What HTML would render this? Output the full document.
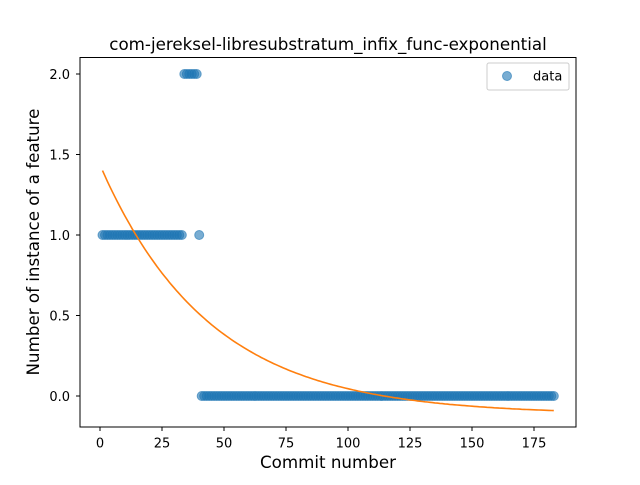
<!DOCTYPE html>
<html><head><meta charset="utf-8"><style>
body{margin:0;background:#fff;font-family:"Liberation Sans","DejaVu Sans",sans-serif}
</style></head><body>
<svg id="chart" width="640" height="480" xmlns="http://www.w3.org/2000/svg" font-family="'DejaVu Sans','Liberation Sans',sans-serif">
<rect width="640" height="480" fill="#fff"/>
<text x="328" y="50" font-size="16.7" text-anchor="middle">com-jereksel-libresubstratum_infix_func-exponential</text>
<g id="plot"></g>
<rect x="80" y="57.5" width="496" height="369.5" fill="none" stroke="#000" stroke-width="1"/>
<text x="328" y="468" font-size="16.7" text-anchor="middle">Commit number</text>
<text transform="translate(39,242) rotate(-90)" font-size="16.7" text-anchor="middle">Number of instance of a feature</text>
<g>
<rect x="487" y="63" width="82" height="27" rx="2" fill="#fff" stroke="#ccc"/>
<circle cx="507" cy="76" r="4.5" fill="#1f77b4" fill-opacity="0.6" stroke="#1f77b4" stroke-opacity="0.6"/>
<text x="533" y="80.5" font-size="13">data</text>
</g>
</svg>
<script>
const xTicks=[0,25,50,75,100,125,150,175];
const yTicks=[0.0,0.5,1.0,1.5,2.0];
const yTickLabels=["0.0","0.5","1.0","1.5","2.0"];
const ones1=[];for(let i=1;i<=33;i++)ones1.push(i);
const commits=[...ones1,34,35,36,37,38,39,40];
const values=[...ones1.map(()=>1),2,2,2,2,2,2,1];
for(let i=41;i<=183;i++){commits.push(i);values.push(0);}
const fitParams=[1.515,0.0227,-0.115];
const X=v=>100+v*2.48, Y=v=>396-v*161;
const NS="http://www.w3.org/2000/svg", g=document.getElementById('plot');
function mk(t,a){const e=document.createElementNS(NS,t);for(const k in a)e.setAttribute(k,a[k]);g.appendChild(e);return e;}
xTicks.forEach(t=>{
 const l=mk('line',{x1:X(t),x2:X(t),y1:427,y2:431,stroke:'#000'});
 
 
 const tx=mk('text',{x:X(t),y:447.5,'font-size':13,'text-anchor':'middle'});tx.textContent=t;
 
 
});
yTicks.forEach((t,i)=>{
 const l=mk('line',{x1:76,x2:80,y1:Y(t),y2:Y(t),stroke:'#000'});
 
 
 const tx=mk('text',{x:70,y:Y(t)+5,'font-size':13,'text-anchor':'end'});tx.textContent=yTickLabels[i];
 
 
});
commits.forEach((c,i)=>{
 const p=mk('circle',{cx:X(c),cy:Y(values[i]),r:4.5,fill:'#1f77b4','fill-opacity':0.6,stroke:'#1f77b4','stroke-opacity':0.6});
 
 
});
let d='';
for(let x=1;x<=183;x++){const y=fitParams[0]*Math.exp(-fitParams[1]*(x-1))+fitParams[2];d+=(x==1?'M':'L')+X(x).toFixed(1)+','+Y(y).toFixed(1);}
const fl=mk('path',{d:d,fill:'none',stroke:'#ff7f0e','stroke-width':1.6});


</script>
</body></html>
